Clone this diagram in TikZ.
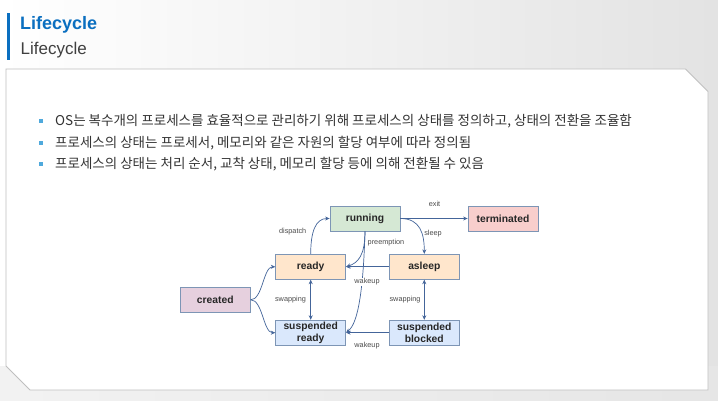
\documentclass[tikz,border=0pt]{standalone}
\usepackage{fontspec}
\setmainfont{Liberation Sans}
\newfontfamily\krfont{Noto Sans CJK KR}
\usetikzlibrary{arrows.meta}

\definecolor{titleblue}{HTML}{0B6FC0}
\definecolor{dotblue}{HTML}{4FA9DC}
\definecolor{edgeblue}{HTML}{44659A}
\definecolor{boxline}{HTML}{7D95B5}
\definecolor{runfill}{HTML}{D5E8D4}
\definecolor{endfill}{HTML}{F8CECC}
\definecolor{waitfill}{HTML}{FFE6CC}
\definecolor{newfill}{HTML}{E6D0DE}
\definecolor{swapfill}{HTML}{DAE8FC}

\begin{document}
\begin{tikzpicture}[
  x=1pt, y=-1pt,
  state/.style={draw=boxline, line width=.8pt, minimum width=70pt, minimum height=25pt, inner sep=1pt, align=center, font=\fontsize{10.3}{12}\selectfont\bfseries, text=black!85},
  flow/.style={draw=edgeblue, line width=.7pt, -{Stealth[length=4.5pt, width=4pt]}},
  twoway/.style={flow, {Stealth[length=4.5pt, width=4pt]}-{Stealth[length=4.5pt, width=4pt]}},
  lbl/.style={font=\fontsize{7.3}{8}\selectfont, text=black!70, fill=white, inner sep=.5pt},
  item/.style={anchor=west, inner sep=0pt, font=\krfont\fontsize{13.5}{15}\selectfont, text=black!80}
]
\useasboundingbox (0,0) rectangle (718,401);
% backdrop and content frame
\shade[left color=white, middle color=black!2, right color=black!11] (0,0) rectangle (718,401);
\shade[left color=black!5, right color=black!10] (0,366) rectangle (718,401);
\fill[white, draw=black!25, line width=.9pt] (6,69) -- (685.5,69) -- (708,91.5) -- (708,390) -- (30,390) -- (6,366) -- cycle;

% heading
\fill[titleblue] (7,13) rectangle (9.5,60.5);
\node[anchor=base west, inner sep=0pt, text=titleblue, font=\fontsize{18}{20}\selectfont\bfseries] (title) at (20,30) {Lifecycle};
\node[anchor=base west, inner sep=0pt, text=black!75, font=\fontsize{17}{19}\selectfont] (subtitle) at (20.5,54.3) {Lifecycle};

% bullet list
\foreach \y/\t [count=\i] in {121/{OS는 복수개의 프로세스를 효율적으로 관리하기 위해 프로세스의 상태를 정의하고, 상태의 전환을 조율함},
                              142.7/{프로세스의 상태는 프로세서, 메모리와 같은 자원의 할당 여부에 따라 정의됨},
                              163.7/{프로세스의 상태는 처리 순서, 교착 상태, 메모리 할당 등에 의해 전환될 수 있음}} {
  \fill[dotblue] (38.5,\y-2) rectangle +(4,4);
  \node[item] (item\i) at (55,\y) {\t};
}

% states
\node[state, fill=runfill] (running) at (365,218.5) {running};
\node[state, fill=endfill] (terminated) at (503,218.5) {terminated};
\node[state, fill=waitfill] (ready) at (310.7,266.8) {ready};
\node[state, fill=waitfill] (asleep) at (424.3,266.8) {asleep};
\node[state, fill=newfill] (created) at (215.3,299.8) {created};
\node[state, fill=swapfill] (sready) at (310.7,332.7) {suspended\\ready};
\node[state, fill=swapfill] (sblocked) at (424.3,332.7) {suspended\\blocked};

% transitions
\draw[flow] (running.east) -- (terminated.west);
\draw[flow] (running.east) .. controls +(20,0) and +(0,-20) .. (asleep.north);
\draw[flow] (ready.north) .. controls +(0,-22) and +(-14,0) .. (running.west);
\draw[flow] (running.south) .. controls +(0,24) and +(12,-4) .. (ready.east);
\draw[flow] (running.south) .. controls +(-2,70) and +(10,-8) .. (sready.east);
\draw[flow] (asleep.west) -- (ready.east);
\draw[flow] (sblocked.west) -- (sready.east);
\draw[twoway] (ready.south) -- (sready.north);
\draw[twoway] (asleep.south) -- (sblocked.north);
\draw[flow] (created.east) .. controls +(12,0) and +(-12,0) .. (ready.west);
\draw[flow] (created.east) .. controls +(12,0) and +(-12,0) .. (sready.west);

% transition labels
\node[lbl] (exit) at (434.5,204) {exit};
\node[lbl] (dispatch) at (292.7,232) {dispatch};
\node[lbl] (sleep) at (433,234) {sleep};
\node[lbl] (preempt) at (386,243) {preemption};
\node[lbl] (wakeup1) at (367,282) {wakeup};
\node[lbl] (swap1) at (290.5,299.7) {swapping};
\node[lbl] (swap2) at (405,299.7) {swapping};
\node[lbl] (wakeup2) at (367,345.7) {wakeup};
\end{tikzpicture}
\end{document}
